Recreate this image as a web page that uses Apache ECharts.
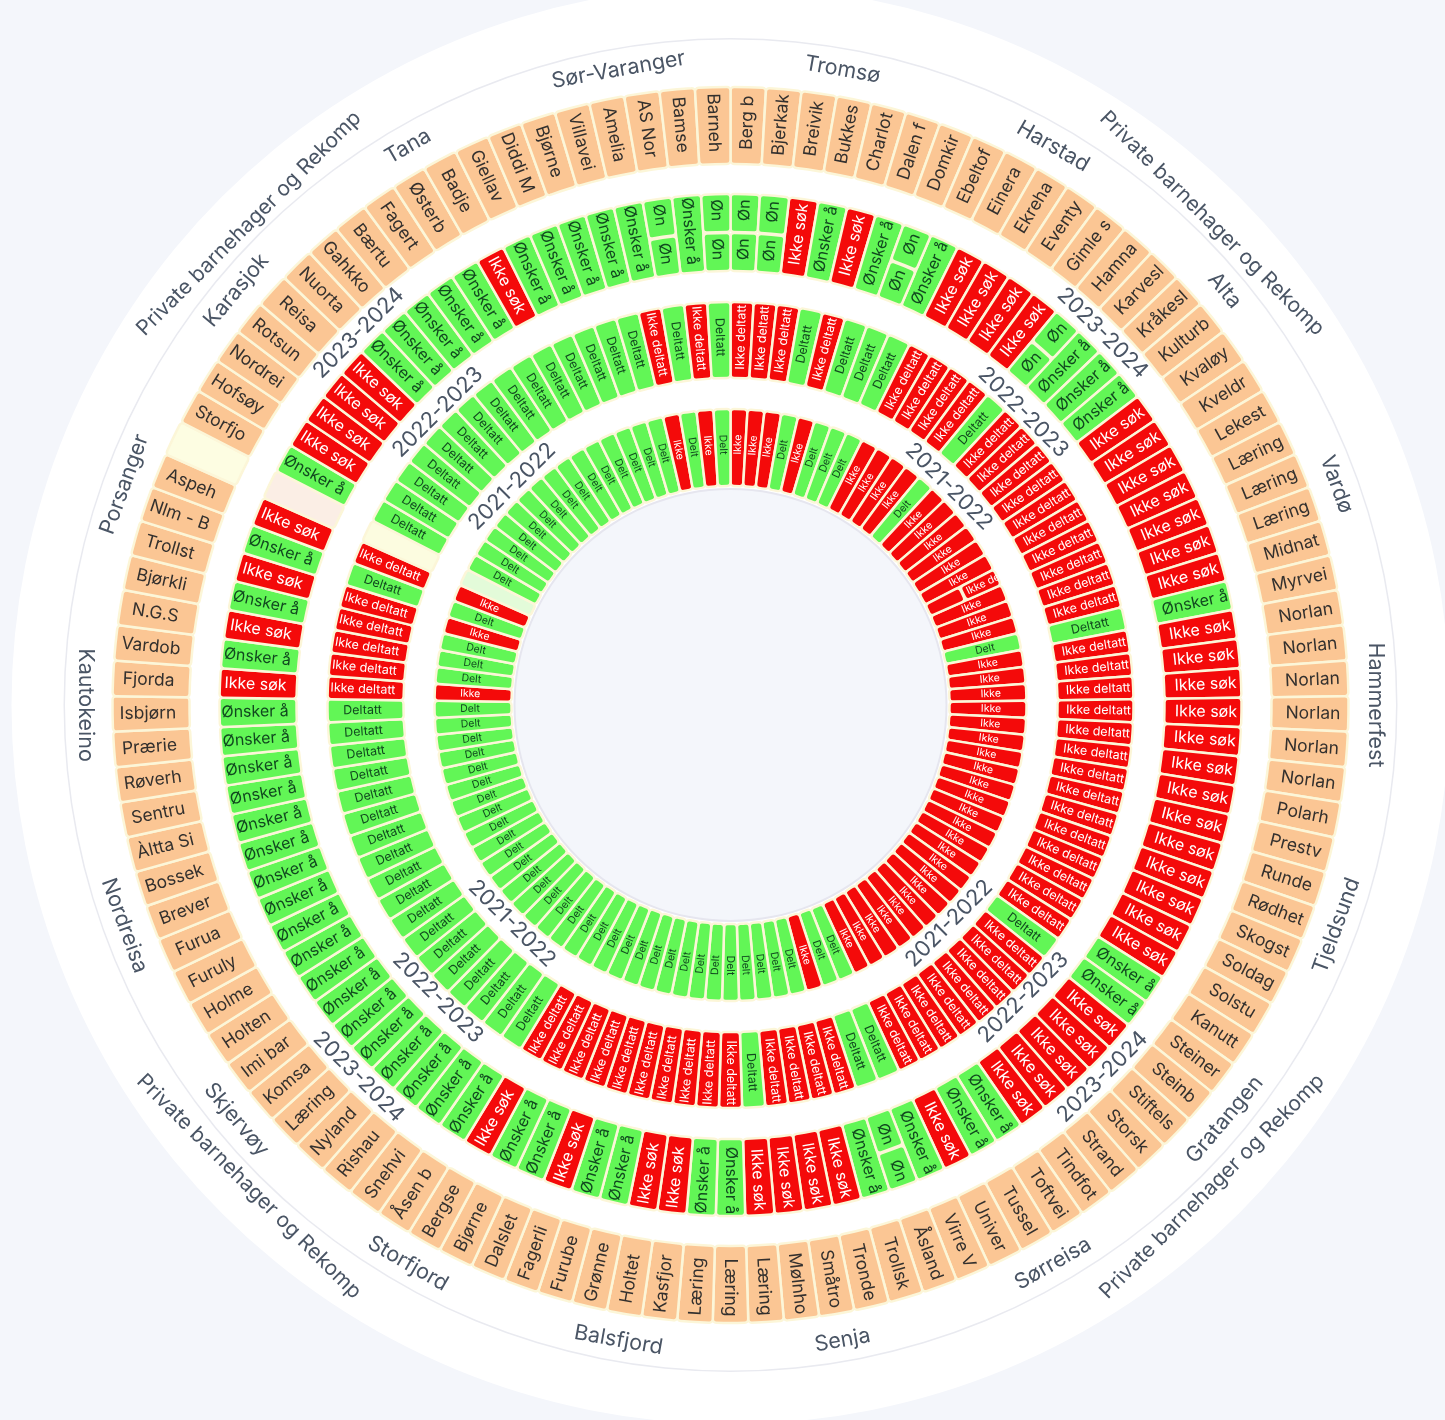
<!DOCTYPE html>
<html>
<head>
<meta charset="utf-8">
<title>Barnehager</title>
<script src="https://cdn.jsdelivr.net/npm/echarts@6/dist/echarts.min.js"></script>
<style>
  html, body { margin: 0; padding: 0; background: #f4f6fb; }
  #chart { width: 1445px; height: 1420px; }
</style>
</head>
<body>
<div id="chart"></div>
<script>
const barnehager = [
  'Berg b','Bjerkak','Breivik','Bukkes','Charlot','Dalen f','Domkir','Ebeltof','Einera','Ekreha',
  'Eventy','Gimle s','Hamna','Karvesl','Kråkesl','Kulturb','Kvaløy','Kveldr','Lekest','Læring',
  'Læring','Læring','Midnat','Myrvei','Norlan','Norlan','Norlan','Norlan','Norlan','Norlan',
  'Polarh','Prestv','Runde','Rødhet','Skogst','Soldag','Solstu','Kanutt','Steiner','Steinb',
  'Stiftels','Storsk','Strand','Tindfot','Toftvei','Tussel','Univer','Virre V','Åsland','Trollsk',
  'Tronde','Småtro','Mølnho','Læring','Læring','Læring','Kasfjor','Holtet','Grønne','Furube',
  'Fagerli','Dalslet','Bjørne','Bergse','Åsen b','Snehvi','Rishau','Nyland','Læring','Komsa',
  'Imi bar','Holten','Holme','Furuly','Furua','Brever','Bossek','Àltta Si','Sentru','Røverh',
  'Prærie','Isbjørn','Fjorda','Vardob','N.G.S','Bjørkli','Trollst','Nlm - B','Aspeh','',
  'Storfjo','Hofsøy','Nordrei','Rotsun','Reisa','Nuorta','Gahkko','Bærtu','Fagert','Østerb',
  'Badje','Giellav','Diddi M','Bjørne','Villavei','Amelia','AS Nor','Bamse','Barneh'
]

// I = red, G = green, S = cell split in two bands, B = blank
const status2324 = [
  'S','S','I','G','I','G','S','G','I','I',
  'I','I','S','G','G','G','I','I','I','I',
  'I','I','I','G','I','I','I','I','I','I',
  'I','I','I','I','I','I','I','G','G','I',
  'I','I','I','I','G','G','I','G','S','G',
  'I','I','I','I','G','G','I','I','G','G',
  'I','G','G','I','G','G','G','G','G','G',
  'G','G','G','G','G','G','G','G','G','G',
  'G','G','I','G','I','G','I','G','I','B',
  'G','I','I','I','I','G','G','G','G','G',
  'I','G','G','G','G','G','S','G','S'
]
const status2223 = [
  'I','I','I','G','I','G','G','G','I','I',
  'I','I','G','I','I','I','I','I','I','I',
  'I','I','I','G','I','I','I','I','I','I',
  'I','I','I','I','I','I','I','I','G','I',
  'I','I','I','I','I','I','I','G','G','I',
  'I','I','I','G','I','I','I','I','I','I',
  'I','I','I','I','G','G','G','G','G','G',
  'G','G','G','G','G','G','G','G','G','G',
  'G','G','I','I','I','I','I','G','I','B',
  'G','G','G','G','G','G','G','G','G','G',
  'G','G','G','G','G','I','G','I','G'
]
const status2122 = [
  'I','I','I','G','I','G','G','G','I','I',
  'I','I','G','I','I','I','I','I','I','S',
  'I','I','I','G','I','I','I','I','I','I',
  'I','I','I','I','I','I','I','I','I','I',
  'I','I','I','I','I','I','I','G','G','I',
  'G','G','G','G','G','G','G','G','G','G',
  'G','G','G','G','G','G','G','G','G','G',
  'G','G','G','G','G','G','G','G','G','G',
  'G','G','I','G','G','G','I','G','I','B',
  'G','G','G','G','G','G','G','G','G','G',
  'G','G','G','G','G','I','G','I','G'
]

const kommuner = [
  'Tromsø','Harstad','Alta','Vardø','Hammerfest','Tjeldsund','Gratangen','Sørreisa','Senja',
  'Balsfjord','Storfjord','Skjervøy','Nordreisa','Kautokeino','Porsanger','Karasjok','Tana','Sør-Varanger'
]
const privateLabels = [
  'Private barnehager og Rekomp','Private barnehager og Rekomp',
  'Private barnehager og Rekomp','Private barnehager og Rekomp'
]
const years2324 = ['2023-2024','2023-2024','2023-2024','2023-2024']
const years2223 = ['2022-2023','2022-2023','2022-2023','2022-2023']
const years2122 = ['2021-2022','2021-2022','2021-2022','2021-2022']

const CENTER = [730.5, 705]
const FONT = 'Inter, "Noto Sans", sans-serif'
const PAGE_BG = '#f4f6fb'
const RED = '#f40a0a'
const GREEN = '#62f656'
const PEACH = '#fbc694'
const BORDER = '#fcf6d8'
const TEXT_GREY = '#4a5565'
const GREEN_TEXT = '#11491f'

function basePie(radius, data, z) {
  return {
    type: 'pie',
    center: CENTER,
    radius,
    startAngle: 90,
    clockwise: true,
    silent: true,
    z,
    avoidLabelOverlap: false,
    labelLine: { show: false },
    emphasis: { disabled: true },
    data,
  }
}

// one flat disc or thin circle
function disc(radius, color, z) {
  const s = basePie(radius, [{ value: 1, name: '' }], z)
  s.itemStyle = { color }
  s.label = { show: false }
  return s
}

// text only rings: kommune names, private labels and the year labels
function textRing(radius, names, fontSize, z) {
  const s = basePie(radius, names.map(n => ({ value: 1, name: n })), z)
  s.itemStyle = { color: 'transparent' }
  s.label = {
    show: true,
    position: 'inside',
    rotate: 'tangential',
    formatter: '{b}',
    color: TEXT_GREY,
    fontFamily: FONT,
    fontSize,
  }
  return s
}

function cellRing(radius, cells, fontSize, z) {
  const s = basePie(radius, cells.map(c => ({
    value: 1,
    name: c.text,
    itemStyle: c.color
      ? { color: c.color, borderColor: BORDER, borderWidth: 2.5, borderRadius: 3.5 }
      : { color: 'transparent', borderWidth: 0 },
    label: { show: !!c.text, color: c.textColor },
  })), z)
  s.label = {
    position: 'inside',
    rotate: 'radial',
    formatter: '{b}',
    fontFamily: FONT,
    fontSize,
  }
  return s
}

function statusCells(codes, redText, greenText, blankColor) {
  return codes.map(code => {
    if (code === 'I') return { text: redText, color: RED, textColor: '#fff' }
    if (code === 'G') return { text: greenText, color: GREEN, textColor: GREEN_TEXT }
    if (code === 'B') return { text: '', color: blankColor }
    return { text: '' }
  })
}

function splitCells(codes, color, text, textColor) {
  return codes.map(code => (code === 'S' ? { text, color, textColor } : { text: '' }))
}

const nameCells = barnehager.map(n => (
  n ? { text: n, color: PEACH, textColor: '#33302e' } : { text: '', color: '#fdfde2' }
))

const chart = echarts.init(document.getElementById('chart'))
chart.setOption({
  animation: false,
  backgroundColor: PAGE_BG,
  series: [
    disc([0, 719], '#ffffff', 1),
    disc([665.5, 667], '#e9eaf0', 2),
    disc([0, 216], PAGE_BG, 2),
    disc([215, 217], '#e6e6ef', 3),
    cellRing([541, 618], nameCells, 17.5, 5),
    cellRing([434, 511], statusCells(status2324, 'Ikke søk', 'Ønsker å', '#fbeee5'), 16, 5),
    cellRing([434, 472], splitCells(status2324, GREEN, 'Øn', GREEN_TEXT), 16, 5),
    cellRing([473, 511], splitCells(status2324, GREEN, 'Øn', GREEN_TEXT), 16, 5),
    cellRing([327, 403], statusCells(status2223, 'Ikke deltatt', 'Deltatt', '#fcfce0'), 12.5, 5),
    cellRing([219, 296], statusCells(status2122, 'Ikke', 'Delt', '#e3fbd9'), 10.5, 5),
    cellRing([219, 257], splitCells(status2122, RED, '', '#fff'), 10.5, 5),
    cellRing([258, 296], splitCells(status2122, RED, 'Ikke de', '#fff'), 10.5, 5),
    textRing([630, 654], kommuner, 21.5, 6),
    textRing([666, 690], privateLabels, 21, 6),
    textRing([511, 535], years2324, 22, 6),
    textRing([399, 423], years2223, 22, 6),
    textRing([294, 318], years2122, 22, 6),
  ],
})
</script>
</body>
</html>
